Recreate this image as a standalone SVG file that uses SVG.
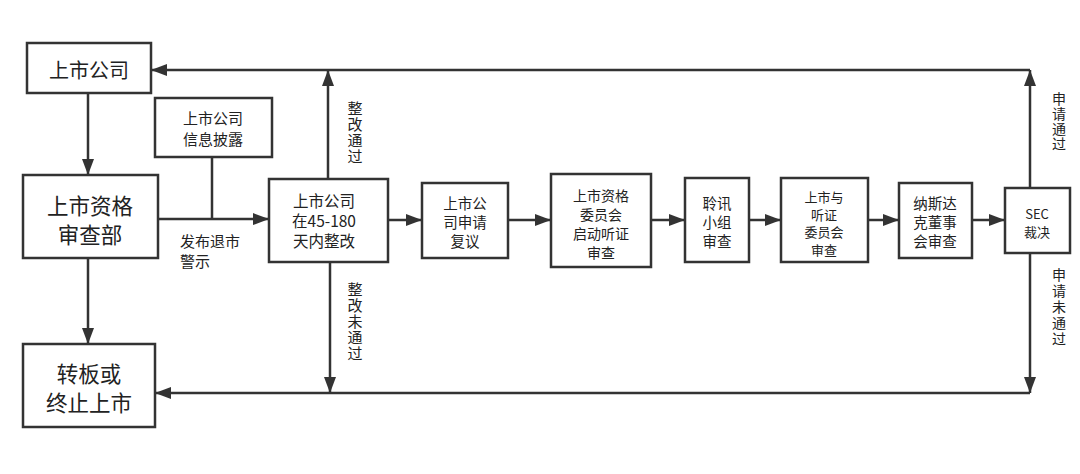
<svg xmlns="http://www.w3.org/2000/svg" width="1080" height="474" viewBox="0 0 1080 474">
<defs>
<marker id="ah" markerUnits="userSpaceOnUse" markerWidth="16" markerHeight="12" refX="16" refY="6" orient="auto">
<path d="M0,0 L16,6 L0,12 z" fill="#333"/>
</marker>
<style>
.box{fill:#fff;stroke:#333;stroke-width:2.5}
.ln{fill:none;stroke:#333;stroke-width:2.5}
.ar{fill:none;stroke:#333;stroke-width:2.5;marker-end:url(#ah)}
text{font-family:"Noto Sans CJK SC","Liberation Serif",serif;fill:#222;text-anchor:middle;dominant-baseline:central}
.v{writing-mode:vertical-rl;text-anchor:start}
</style>
</defs>
<rect width="1080" height="474" fill="#fff"/>
<g id="connectors">
<line class="ar" x1="88" y1="93" x2="88" y2="175"/>
<line class="ar" x1="88" y1="258" x2="88" y2="344"/>
<line class="ar" x1="158" y1="219" x2="269" y2="219"/>
<line class="ln" x1="212" y1="157" x2="212" y2="219"/>
<line class="ar" x1="328" y1="179" x2="328" y2="70"/>
<line class="ar" x1="330" y1="262" x2="330" y2="393"/>
<line class="ar" x1="388" y1="220" x2="422" y2="220"/>
<line class="ar" x1="508" y1="220" x2="551" y2="220"/>
<line class="ar" x1="651" y1="220" x2="685" y2="220"/>
<line class="ar" x1="749" y1="220" x2="781" y2="220"/>
<line class="ar" x1="868" y1="220" x2="899" y2="220"/>
<line class="ar" x1="972" y1="220" x2="1005" y2="220"/>
<line class="ar" x1="1030" y1="188" x2="1030" y2="70"/>
<line class="ar" x1="1030" y1="70" x2="151" y2="70"/>
<line class="ar" x1="1030" y1="253" x2="1030" y2="393"/>
<line class="ar" x1="1030" y1="393" x2="155" y2="393"/>
<text x="180" y="240" font-size="15" style="text-anchor:start"><tspan x="180" y="240">发布退市</tspan><tspan x="180" y="260">警示</tspan></text>
<text class="v" x="355" y="101" font-size="15" letter-spacing="1">整改通过</text>
<text class="v" x="355" y="282" font-size="15" letter-spacing="1">整改未通过</text>
<text class="v" x="1059" y="92" font-size="14" letter-spacing="1">申请通过</text>
<text class="v" x="1059" y="268" font-size="14" letter-spacing="2">申请未通过</text>
</g>
<g id="n1"><rect class="box" x="27" y="43" width="124" height="50"/><text x="89" y="69" font-size="20">上市公司</text></g>
<g id="n2"><rect class="box" x="23" y="175" width="135" height="83"/><text font-size="21.5"><tspan x="90" y="204">上市资格</tspan><tspan x="90" y="233">审查部</tspan></text></g>
<g id="n3"><rect class="box" x="155" y="98" width="117" height="59"/><text font-size="15"><tspan x="213" y="117">上市公司</tspan><tspan x="213" y="138">信息披露</tspan></text></g>
<g id="n4"><rect class="box" x="269" y="179" width="119" height="83"/><text font-size="15.5"><tspan x="324" y="200">上市公司</tspan><tspan x="324" y="220">在45-180</tspan><tspan x="324" y="240">天内整改</tspan></text></g>
<g id="n5"><rect class="box" x="23" y="344" width="132" height="83"/><text font-size="21.5"><tspan x="89" y="372">转板或</tspan><tspan x="89" y="401">终止上市</tspan></text></g>
<g id="n6"><rect class="box" x="422" y="183" width="86" height="75"/><text font-size="14.5"><tspan x="465" y="202">上市公</tspan><tspan x="465" y="221">司申请</tspan><tspan x="465" y="240">复议</tspan></text></g>
<g id="n7"><rect class="box" x="551" y="174" width="100" height="93"/><text font-size="14"><tspan x="601" y="195">上市资格</tspan><tspan x="601" y="214">委员会</tspan><tspan x="601" y="233">启动听证</tspan><tspan x="601" y="252">审查</tspan></text></g>
<g id="n8"><rect class="box" x="685" y="178" width="64" height="84"/><text font-size="14.5"><tspan x="717" y="202">聆讯</tspan><tspan x="717" y="221">小组</tspan><tspan x="717" y="240">审查</tspan></text></g>
<g id="n9"><rect class="box" x="781" y="178" width="87" height="84"/><text font-size="13"><tspan x="824" y="196">上市与</tspan><tspan x="824" y="213.5">听证</tspan><tspan x="824" y="231">委员会</tspan><tspan x="824" y="248.5">审查</tspan></text></g>
<g id="n10"><rect class="box" x="899" y="183" width="73" height="75"/><text font-size="14.5"><tspan x="935" y="202">纳斯达</tspan><tspan x="935" y="221">克董事</tspan><tspan x="935" y="240">会审查</tspan></text></g>
<g id="n11"><rect class="box" x="1005" y="188" width="65" height="65"/><text font-size="13"><tspan x="1037" y="213">SEC</tspan><tspan x="1037" y="231">裁决</tspan></text></g>
</svg>
